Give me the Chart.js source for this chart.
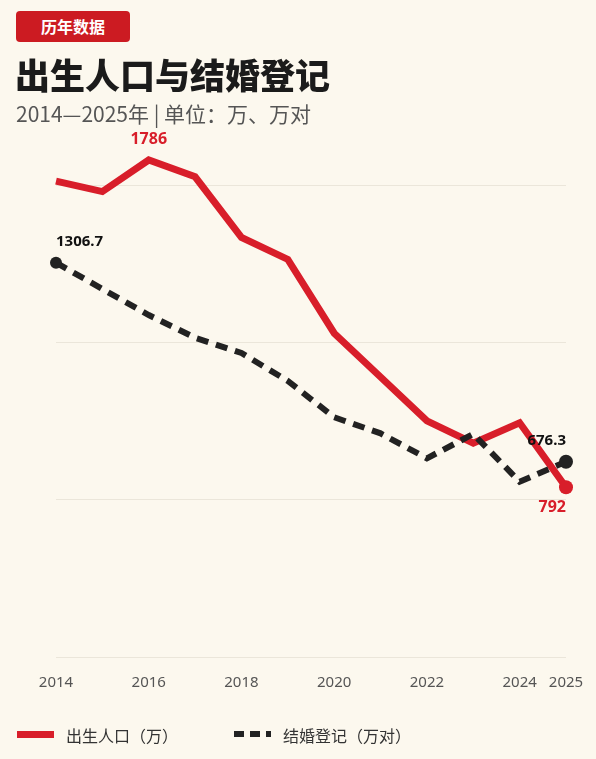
<!DOCTYPE html>
<html><head><meta charset="utf-8">
<script src="https://cdn.jsdelivr.net/npm/chart.js@4.4.1/dist/chart.umd.min.js"></script>
<style>
html,body{margin:0;padding:0;background:#fcf8ee;width:596px;height:759px;overflow:hidden;font-family:"Noto Sans CJK SC","Noto Sans",sans-serif;}
#wrap{position:relative;width:596px;height:759px;}
#c{position:absolute;left:0;top:0;}
.badge{position:absolute;left:16px;top:11px;width:114px;height:31px;background:#cc1b22;border-radius:4px;color:#fff;font-weight:700;font-size:16px;line-height:31px;text-align:center;}
.title{position:absolute;left:15px;top:52px;font-size:35px;font-weight:900;color:#1b1b1b;line-height:44px;white-space:nowrap;}
.sub{position:absolute;left:16px;top:100px;font-size:21px;color:#555;line-height:26px;white-space:nowrap;}
.lg{position:absolute;top:723px;height:24px;line-height:24px;font-size:16px;color:#333;white-space:nowrap;}
.bar{position:absolute;left:17px;top:731px;width:37px;height:7px;background:#d81e2a;}
.dash{position:absolute;left:234px;top:731px;width:37px;height:6px;background:repeating-linear-gradient(to right,#222 0 10px,transparent 10px 16px);}
</style></head>
<body><div id="wrap">
<canvas id="c" width="596" height="759"></canvas>
<div class="badge">历年数据</div>
<div class="title">出生人口与结婚登记</div>
<div class="sub">2014—2025年 | 单位：万、万对</div>
<div class="bar"></div><div class="lg" style="left:66px">出生人口（万）</div>
<div class="dash"></div><div class="lg" style="left:283px">结婚登记（万对）</div>
</div>
<script>
const years = [2014,2015,2016,2017,2018,2019,2020,2021,2022,2023,2024,2025];
const births = [1722,1690,1786,1735,1551,1484,1260,1127,994,926,988,792];
const marriages = [1306.7,1223.4,1141,1069,1020.7,932,817,766,687,764,613,676.3];
const xTickYears = [2014,2016,2018,2020,2022,2024,2025];
const birthLabelIdx = [2,11];
const marriageLabelIdx = [0,11];

const RED = '#d81e2a', BLACK = '#222';

const labelPlugin = {
  id:'vlabels',
  afterDatasetsDraw(chart){
    const ctx = chart.ctx;
    const xs = chart.scales.x, yb = chart.scales.y, ym = chart.scales.y2;
    ctx.save();
    ctx.textBaseline = 'middle';
    ctx.fillStyle = RED;
    ctx.font = 'bold 16px "Noto Sans", sans-serif';
    birthLabelIdx.forEach(i=>{
      const px = xs.getPixelForValue(years[i]), py = yb.getPixelForValue(births[i]);
      if (i === years.length-1){ ctx.textAlign='right'; ctx.fillText(String(births[i]), px, py+20); }
      else { ctx.textAlign='center'; ctx.fillText(String(births[i]), px, py-21); }
    });
    ctx.fillStyle = '#111';
    ctx.font = 'bold 15px "Noto Sans", sans-serif';
    marriageLabelIdx.forEach(i=>{
      const px = xs.getPixelForValue(years[i]), py = ym.getPixelForValue(marriages[i]);
      ctx.textAlign = (i === 0) ? 'left' : 'right';
      ctx.fillText(String(marriages[i]), px, py-21);
    });
    ctx.restore();
  }
};

const lastIdx = years.length-1;
new Chart(document.getElementById('c'), {
  type:'line',
  data:{
    datasets:[
      {
        label:'结婚登记（万对）',
        data: years.map((y,i)=>({x:y,y:marriages[i]})),
        yAxisID:'y2',
        borderColor:BLACK, backgroundColor:BLACK,
        borderWidth:6, borderDash:[12,8], borderCapStyle:'butt',
        pointRadius: c => marriageLabelIdx.includes(c.dataIndex) ? (c.dataIndex===lastIdx?7:6) : 0,
        pointBorderWidth:0, pointHoverRadius:0,
        tension:0, clip:false, order:0
      },
      {
        label:'出生人口（万）',
        data: years.map((y,i)=>({x:y,y:births[i]})),
        yAxisID:'y',
        borderColor:RED, backgroundColor:RED,
        borderWidth:7,
        pointRadius: c => birthLabelIdx.includes(c.dataIndex) ? (c.dataIndex===lastIdx?7:6.5) : 0,
        pointBorderWidth:0, pointHoverRadius:0,
        tension:0, clip:false, order:1
      }
    ]
  },
  options:{
    responsive:false, animation:false, devicePixelRatio:1,
    layout:{padding:{left:56,right:30,top:185,bottom:51}},
    plugins:{legend:{display:false},tooltip:{enabled:false}},
    events:[],
    scales:{
      x:{type:'linear',min:2014,max:2025,
        afterBuildTicks:s=>{s.ticks = xTickYears.map(v=>({value:v}));},
        ticks:{autoSkip:false,maxRotation:0,padding:3,color:'#555',font:{family:'Noto Sans',size:15,lineHeight:3},callback:v=>String(v)},
        grid:{display:false,drawTicks:false}, border:{display:false}},
      y:{min:276.7,max:1710.1,
        afterBuildTicks:s=>{const st=(s.max-s.min)/3; s.ticks=[0,1,2,3].map(k=>({value:s.min+k*st}));},
        ticks:{display:false},
        grid:{color:'#ebe6da',lineWidth:1,drawTicks:false}, border:{display:false}},
      y2:{display:false,position:'right',min:57.6,max:1552.8}
    }
  },
  plugins:[labelPlugin]
});
</script>
</body></html>
